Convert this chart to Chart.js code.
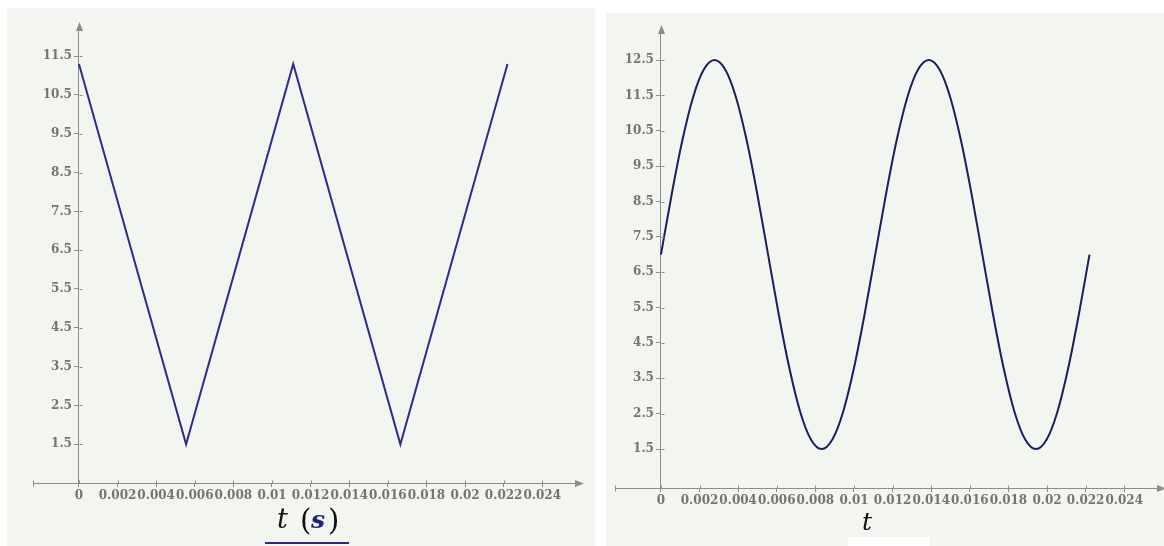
<!DOCTYPE html>
<html>
<head>
<meta charset="utf-8">
<script src="https://cdn.jsdelivr.net/npm/chart.js@4.4.1/dist/chart.umd.min.js"></script>
<style>
  html, body { margin: 0; padding: 0; background: #ffffff; width: 1164px; height: 546px; overflow: hidden; }
  .panel { position: absolute; background: #f3f5f1; }
  #p1 { left: 7px; top: 8px; width: 588px; height: 538px; }
  #p2 { left: 606px; top: 13px; width: 558px; height: 533px; }
  canvas { display: block; }
</style>
</head>
<body>
<div class="panel" id="p1"><canvas id="c1" width="588" height="538"></canvas></div>
<div class="panel" id="p2"><canvas id="c2" width="558" height="533"></canvas></div>
<script>
// Triangle wave (left plot)
const triTime  = [0, 0.00555, 0.0111, 0.01665, 0.0222];
const triValue = [11.3, 1.5, 11.3, 1.5, 11.3];

// Sine wave (right plot)
const sinTime = [
  0, 0.000555, 0.00111, 0.001665, 0.00222, 0.002775, 0.00333, 0.003885, 0.00444, 0.004995,
  0.00555, 0.006105, 0.00666, 0.007215, 0.00777, 0.008325, 0.00888, 0.009435, 0.00999, 0.010545,
  0.0111, 0.011655, 0.01221, 0.012765, 0.01332, 0.013875, 0.01443, 0.014985, 0.01554, 0.016095,
  0.01665, 0.017205, 0.01776, 0.018315, 0.01887, 0.019425, 0.01998, 0.020535, 0.02109, 0.021645,
  0.0222
];
const sinValue = [
  7.0, 8.7, 10.23, 11.45, 12.23, 12.5, 12.23, 11.45, 10.23, 8.7,
  7.0, 5.3, 3.77, 2.55, 1.77, 1.5, 1.77, 2.55, 3.77, 5.3,
  7.0, 8.7, 10.23, 11.45, 12.23, 12.5, 12.23, 11.45, 10.23, 8.7,
  7.0, 5.3, 3.77, 2.55, 1.77, 1.5, 1.77, 2.55, 3.77, 5.3,
  7.0
];

// Axis ticks
const timeTicks   = [0, 0.002, 0.004, 0.006, 0.008, 0.01, 0.012, 0.014, 0.016, 0.018, 0.02, 0.022, 0.024];
const leftYTicks  = [1.5, 2.5, 3.5, 4.5, 5.5, 6.5, 7.5, 8.5, 9.5, 10.5, 11.5];
const rightYTicks = [1.5, 2.5, 3.5, 4.5, 5.5, 6.5, 7.5, 8.5, 9.5, 10.5, 11.5, 12.5];

const AXIS = '#8c8c8c';
const TICK_TEXT = '#747474';
const tickFont = { family: '"DejaVu Serif", serif', size: 12, weight: 'bold' };

// Mathcad-style axes: cross tick marks, arrowheads, labels beside the t = 0 axis
const axisDecor = {
  id: 'axisDecor',
  beforeDraw(chart) {
    const xs = chart.scales.x, ys = chart.scales.y;
    const ax = xs.getPixelForValue(0);
    ys.getLabelItems().forEach(it => {
      it.options.translation[0] = ax - 7;
      it.options.textAlign = 'right';
    });
  },
  afterDraw(chart, args, opts) {
    const { ctx, chartArea } = chart;
    const xs = chart.scales.x, ys = chart.scales.y;
    const ax = Math.round(xs.getPixelForValue(0)) + 0.5;
    const ay = Math.round(chartArea.bottom) + 0.5;
    ctx.save();
    ctx.strokeStyle = AXIS;
    ctx.fillStyle = AXIS;
    ctx.lineWidth = 1;
    ctx.beginPath();
    xs.ticks.forEach(t => {
      const px = Math.round(xs.getPixelForValue(t.value)) + 0.5;
      ctx.moveTo(px, ay - 3); ctx.lineTo(px, ay);
    });
    ys.ticks.forEach(t => {
      const py = Math.round(ys.getPixelForValue(t.value)) + 0.5;
      ctx.moveTo(ax, py); ctx.lineTo(ax + 3, py);
    });
    const lx = Math.round(chartArea.left) + 0.5;
    ctx.moveTo(lx, ay - 3); ctx.lineTo(lx, ay + 3);
    ctx.stroke();
    // arrowheads
    ctx.beginPath();
    ctx.moveTo(ax, chartArea.top - 8);
    ctx.lineTo(ax - 3.5, chartArea.top + 1);
    ctx.lineTo(ax + 3.5, chartArea.top + 1);
    ctx.closePath();
    ctx.fill();
    ctx.beginPath();
    ctx.moveTo(chartArea.right + 7, ay);
    ctx.lineTo(chartArea.right - 2, ay - 3.5);
    ctx.lineTo(chartArea.right - 2, ay + 3.5);
    ctx.closePath();
    ctx.fill();
    ctx.restore();
    if (opts && opts.title) opts.title(ctx);
  }
};

function makePlot(canvasId, times, values, color, yMin, yMax, yTicks, padding, smooth, title) {
  return new Chart(document.getElementById(canvasId), {
    type: 'line',
    data: {
      datasets: [{
        data: times.map((t, i) => ({ x: t, y: values[i] })),
        borderColor: color,
        borderWidth: 2,
        pointRadius: 0,
        fill: false,
        tension: 0,
        cubicInterpolationMode: smooth ? 'monotone' : 'default'
      }]
    },
    options: {
      responsive: false,
      animation: false,
      events: [],
      layout: { padding },
      plugins: { legend: { display: false }, tooltip: { enabled: false }, axisDecor: { title } },
      scales: {
        x: {
          type: 'linear',
          axis: 'x',
          position: { y: yMin },
          min: -0.00238,
          max: 0.0258,
          afterBuildTicks: s => { s.ticks = timeTicks.map(v => ({ value: v })); },
          ticks: {
            autoSkip: false, maxRotation: 0, minRotation: 0, padding: 3,
            color: TICK_TEXT, font: tickFont,
            callback: v => String(v)
          },
          grid: { display: true, drawOnChartArea: false, drawTicks: true, tickLength: 3, color: AXIS },
          border: { display: true, color: AXIS, width: 1 }
        },
        y: {
          type: 'linear',
          axis: 'y',
          position: { x: 0 },
          min: yMin,
          max: yMax,
          afterBuildTicks: s => { s.ticks = yTicks.map(v => ({ value: v })); },
          ticks: {
            autoSkip: false, padding: 3,
            color: TICK_TEXT, font: tickFont,
            callback: v => String(v)
          },
          grid: { display: true, drawOnChartArea: false, drawTicks: true, tickLength: 4, color: AXIS },
          border: { display: true, color: AXIS, width: 1 }
        }
      }
    },
    plugins: [axisDecor]
  });
}

makePlot('c1', triTime, triValue, '#2c2c8c', 0.5, 12.175, leftYTicks,
  { left: 26, right: 18, top: 22, bottom: 63 }, false,
  ctx => {
    ctx.save();
    ctx.textBaseline = 'alphabetic';
    ctx.textAlign = 'left';
    ctx.fillStyle = '#111111';
    ctx.font = 'italic 27px "DejaVu Serif"';
    ctx.fillText('t', 270, 520);
    ctx.font = '29px "DejaVu Serif"';
    ctx.fillText('(', 293, 522);
    ctx.fillText(')', 321, 522);
    ctx.fillStyle = '#23237e';
    ctx.font = 'italic bold 25px "DejaVu Serif"';
    ctx.fillText('s', 304, 520);
    ctx.strokeStyle = '#2a2a86';
    ctx.lineWidth = 2;
    ctx.beginPath();
    ctx.moveTo(258, 535); ctx.lineTo(342, 535);
    ctx.stroke();
    ctx.restore();
  });

makePlot('c2', sinTime, sinValue, '#1d1d60', 0.4, 13.265, rightYTicks,
  { left: 9, right: 5, top: 20, bottom: 58 }, true,
  ctx => {
    ctx.save();
    ctx.fillStyle = '#111111';
    ctx.font = 'italic 25px "DejaVu Serif"';
    ctx.textBaseline = 'alphabetic';
    ctx.fillText('t', 256, 517);
    ctx.fillStyle = '#ffffff';
    ctx.fillRect(242, 524, 82, 9);
    ctx.restore();
  });
</script>
</body>
</html>
